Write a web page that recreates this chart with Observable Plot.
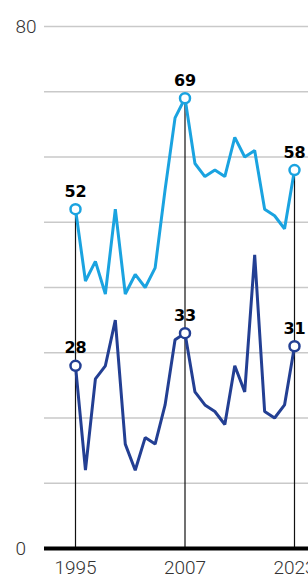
<!DOCTYPE html>
<html><head><meta charset="utf-8">
<script src="https://cdn.jsdelivr.net/npm/d3@7"></script>
<script src="https://cdn.jsdelivr.net/npm/@observablehq/plot@0.6"></script>
<style>
body{margin:0;background:#fff;}
#chart{width:308px;height:578px;overflow:hidden;}
</style>
</head><body><div id="chart"></div>
<script>
const years = [1995,1996,1997,1998,1999,2000,2001,2002,2003,2004,2005,2007,2008,2009,2010,2011,2012,2013,2014,2015,2017,2019,2023];
const seriesLight = [52,41,44,39,52,39,42,40,43,55,66,69,59,57,58,57,63,60,61,52,51,49,58];
const seriesDark  = [28,12,26,28,35,16,12,17,16,22,32,33,24,22,21,19,28,24,45,21,20,22,31];
const seriesNames = ["light","dark"];
const seriesColors = ["#1aa3e0","#233f93"];
const labelYears = [1995, 2007, 2023];
const yTickLabels = [0, 80];
const gridValues = [10,20,30,40,50,60,70,80];

// x position = survey order (surveys are evenly spaced on the chart)
const rows = years.flatMap((yr, i) => [
  {pos: i, year: yr, value: seriesLight[i], series: "light"},
  {pos: i, year: yr, value: seriesDark[i], series: "dark"}
]);
const labeled = rows.filter(d => labelYears.includes(d.year));
const labelPos = labelYears.map(yr => years.indexOf(yr));
const tops = labelYears.map(yr => ({pos: years.indexOf(yr), top: d3.max(labeled.filter(d => d.year === yr), d => d.value)}));

const chart = Plot.plot({
  width: 308,
  height: 578,
  marginLeft: 44,
  marginRight: 0,
  marginTop: 26,
  marginBottom: 30,
  style: {background: "#fff", overflow: "visible"},
  x: {type: "linear", domain: [0, years.length - 1], range: [75, 294]},
  y: {domain: [0, 80]},
  color: {domain: seriesNames, range: seriesColors},
  marks: [
    Plot.ruleY(gridValues, {stroke: "#c9c9c9", strokeWidth: 1.5}),
    Plot.ruleX(tops, {x: "pos", y1: 0, y2: "top", stroke: "#111", strokeWidth: 1.2}),
    Plot.line(rows, {x: "pos", y: "value", z: "series", stroke: "series", strokeWidth: 3, strokeLinejoin: "miter"}),
    Plot.dot(labeled, {x: "pos", y: "value", r: 5, fill: "white", stroke: "series", strokeWidth: 2.5}),
    Plot.text(labeled, {x: "pos", y: "value", text: d => String(d.value), lineAnchor: "bottom", dy: -12.5,
      fontFamily: "DejaVu Sans", fontWeight: "bold", fontSize: 16, fill: "#000"}),
    Plot.ruleY([0], {stroke: "#000", strokeWidth: 4}),
    Plot.axisY(yTickLabels, {tickSize: 0, tickPadding: 0, textAnchor: "start", dx: -29,
      fontSize: 19, fontFamily: "Roboto", fontWeight: 300, fill: "#333", label: null}),
    Plot.axisX(labelPos, {tickSize: 0, tickPadding: 12, tickFormat: i => String(years[i]), fontSize: 19, fontFamily: "Roboto",
      fontWeight: 300, fill: "#333", label: null})
  ]
});
document.getElementById("chart").appendChild(chart);
</script>
</body></html>
